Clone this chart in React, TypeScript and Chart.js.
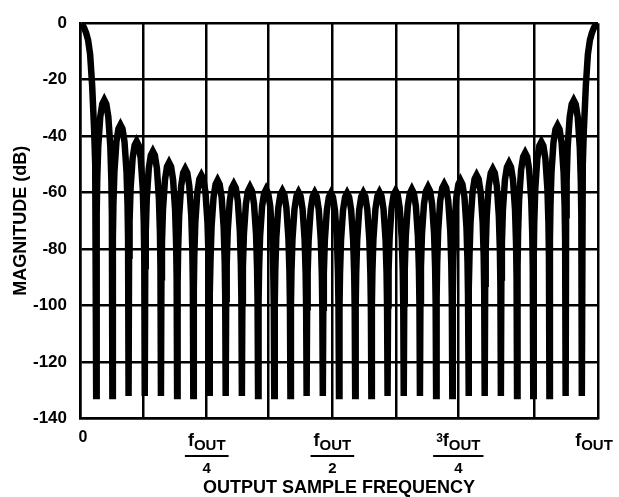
import React, { useEffect, useRef } from 'react';
import { Chart, registerables } from 'chart.js';

Chart.register(...registerables);

// ---- data ----
// x axis is measured in "lobe widths": 0 = DC, 32 = fOUT (32 lobes across the span)
const xSpanLobes = 32;
// vertical grid lines as they appear in the reference (slightly irregular)
const xGridPositions = [0, 3.91, 7.83, 11.63, 15.59, 19.56, 23.37, 28.05, 32];
// which grid lines carry a label, and the label pieces
const xLabelGrid = [0, 2, 4, 6, 8];
const xLabelPrefix = ['', '', '', '3', ''];
const xLabelMain = ['0', 'f', 'f', 'f', 'f'];
const xLabelSub = ['', 'OUT', 'OUT', 'OUT', 'OUT'];
const xLabelDenominator = ['', '4', '2', '4', ''];

const yMin = -140;
const yMax = 0;
const yStep = 20;

// floor reached at every null of the response (dB)
const nullFloorDb = -132;
// main lobe (at DC and at fOUT): distance from the lobe peak (in lobe widths) and level (dB)
const mainLobePos = [0, 0.125, 0.25, 0.375, 0.5, 0.625, 0.75, 0.875, 0.94];
const mainLobeDb = [0, -0.4, -1.6, -3.4, -6, -11, -22, -38, -50];
// the 30 side-lobe peaks, from left to right (dB)
const sideLobePeakDb = [
  -27.2, -36.0, -41.8, -45.4, -49.4, -51.6, -53.8, -55.6, -57.0, -58.0,
  -58.8, -59.4, -59.8, -60.0, -60.2, -60.2, -60.0, -59.8, -59.4, -58.8,
  -58.0, -57.0, -55.6, -53.8, -51.7, -49.5, -45.9, -42.0, -36.2, -27.3,
];
// shape of one side lobe: position inside the lobe (0..1) and level relative to its peak (dB)
const lobeShapePos = [0.03, 0.0625, 0.125, 0.25, 0.375, 0.5, 0.625, 0.75, 0.875, 0.9375, 0.97];
const lobeShapeDb = [-40.6, -28.4, -16.7, -6.0, -1.4, 0, -1.4, -6.0, -16.7, -28.4, -40.6];

const yTitle = 'MAGNITUDE (dB)';
const xTitle = 'OUTPUT SAMPLE FREQUENCY';

function buildPoints() {
  const pts: { x: number; y: number }[] = [];
  mainLobePos.forEach((p, i) => pts.push({ x: p, y: mainLobeDb[i] }));
  for (let k = 1; k < xSpanLobes; k++) {
    pts.push({ x: k, y: nullFloorDb });
    if (k - 1 < sideLobePeakDb.length) {
      const peak = sideLobePeakDb[k - 1];
      lobeShapePos.forEach((p, i) => pts.push({ x: k + p, y: peak + lobeShapeDb[i] }));
    }
  }
  for (let i = mainLobePos.length - 1; i >= 0; i--) {
    pts.push({ x: xSpanLobes - mainLobePos[i], y: mainLobeDb[i] });
  }
  return pts;
}

const FONT = '"Liberation Sans", Arial, Helvetica, sans-serif';

const xLabelPlugin = {
  id: 'xFractionLabels',
  afterDraw(chart: any) {
    const { ctx } = chart;
    const xs = chart.scales.x;
    const nudge = [3, 0, 0, 0, -4];
    ctx.save();
    ctx.fillStyle = '#000';
    ctx.strokeStyle = '#000';
    ctx.textBaseline = 'alphabetic';
    ctx.textAlign = 'left';
    xLabelGrid.forEach((gi, i) => {
      const cx = xs.getPixelForValue(xGridPositions[gi]) + nudge[i];
      const pre = xLabelPrefix[i];
      const main = xLabelMain[i];
      const sub = xLabelSub[i];
      const den = xLabelDenominator[i];
      if (!sub) {
        ctx.font = `bold 16px ${FONT}`;
        const w = ctx.measureText(main).width;
        ctx.fillText(main, cx - w / 2, 442);
        return;
      }
      ctx.font = `bold 12px ${FONT}`;
      const wPre = pre ? ctx.measureText(pre).width : 0;
      ctx.font = `bold 18px ${FONT}`;
      const wMain = ctx.measureText(main).width;
      ctx.font = `bold 15px ${FONT}`;
      const wSub = ctx.measureText(sub).width;
      const total = wPre + wMain + wSub;
      let x0 = cx - total / 2;
      if (pre) {
        ctx.font = `bold 12px ${FONT}`;
        ctx.fillText(pre, x0, 442);
        x0 += wPre;
      }
      ctx.font = `bold 18px ${FONT}`;
      ctx.fillText(main, x0, 446);
      x0 += wMain;
      ctx.font = `bold 15px ${FONT}`;
      ctx.fillText(sub, x0, 450);
      if (den) {
        const half = total / 2 + 3;
        ctx.lineWidth = 2;
        ctx.beginPath();
        ctx.moveTo(cx - half, 456);
        ctx.lineTo(cx + half, 456);
        ctx.stroke();
        ctx.font = `bold 15px ${FONT}`;
        const wd = ctx.measureText(den).width;
        ctx.fillText(den, cx - wd / 2, 473);
      }
    });
    ctx.restore();
  },
};

export default function App() {
  const ref = useRef<HTMLCanvasElement | null>(null);
  useEffect(() => {
    if (!ref.current) return;
    const chart = new Chart(ref.current, {
      type: 'line',
      data: {
        datasets: [
          {
            data: buildPoints(),
            borderColor: '#000',
            borderWidth: 6.5,
            pointRadius: 0,
            tension: 0,
            fill: false,
          },
        ],
      },
      options: {
        animation: false,
        responsive: false,
        devicePixelRatio: 1,
        layout: { padding: { left: 0, right: 21, top: 20, bottom: 0 } },
        plugins: { legend: { display: false }, tooltip: { enabled: false } },
        scales: {
          x: {
            type: 'linear',
            min: 0,
            max: xSpanLobes,
            afterBuildTicks: (s: any) => {
              s.ticks = xGridPositions.map((v) => ({ value: v }));
            },
            afterFit: (s: any) => {
              s.height = 78.5;
            },
            ticks: { display: false },
            grid: { color: '#000', lineWidth: 2.5, drawTicks: false },
            border: { color: '#000', width: 2.5 },
            title: {
              display: true,
              text: xTitle,
              color: '#000',
              font: { family: FONT, size: 18, weight: 'bold', lineHeight: 1 },
              padding: { top: 0, bottom: 0 },
            },
          },
          y: {
            min: yMin,
            max: yMax,
            afterFit: (s: any) => {
              s.width = 80;
            },
            ticks: {
              stepSize: yStep,
              color: '#000',
              font: { family: FONT, size: 17, weight: 'bold' },
              padding: 13,
            },
            grid: { color: '#000', lineWidth: 2.5, drawTicks: false },
            border: { color: '#000', width: 2.5 },
            title: {
              display: true,
              text: yTitle,
              color: '#000',
              font: { family: FONT, size: 18, weight: 'bold' },
              padding: { top: 10, bottom: 0 },
            },
          },
        },
      },
      plugins: [xLabelPlugin],
    });
    return () => chart.destroy();
  }, []);
  return (
    <div style={{ position: 'fixed', left: 0, top: 0, width: 619, height: 497, background: '#fff' }}>
      <canvas ref={ref} width={619} height={497} style={{ display: 'block' }} />
    </div>
  );
}
